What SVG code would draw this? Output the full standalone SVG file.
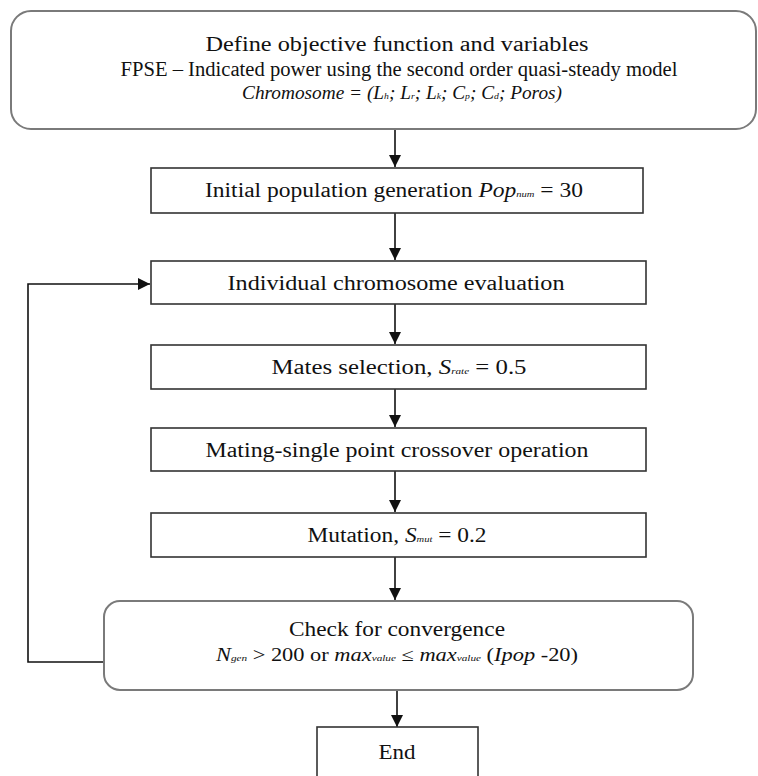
<svg xmlns="http://www.w3.org/2000/svg" width="758" height="776" viewBox="0 0 758 776">
<style>
.box{fill:#fff;stroke:#333;stroke-width:1.6}
.rbox{fill:#fff;stroke:#7a7a7a;stroke-width:2}
.t{font-family:"Liberation Serif","DejaVu Serif",serif;font-size:20px;fill:#111;text-anchor:middle}
.s{font-family:"Liberation Serif","DejaVu Serif",serif;font-size:18px;fill:#111;text-anchor:middle}
.i{font-style:italic}
.sub{font-size:9px;font-style:italic}
.c{fill:none;stroke:#111;stroke-width:1.6}
</style>
<defs>
<marker id="ah" markerUnits="userSpaceOnUse" markerWidth="12" markerHeight="14" refX="12" refY="6" orient="auto">
<path d="M0,0 L12,6 L0,12 Z" fill="#111"/>
</marker>
</defs>
<g id="connectors">
<line class="c" x1="395" y1="130" x2="395" y2="167" marker-end="url(#ah)"/>
<line class="c" x1="395" y1="213" x2="395" y2="260" marker-end="url(#ah)"/>
<line class="c" x1="395" y1="304" x2="395" y2="344" marker-end="url(#ah)"/>
<line class="c" x1="395" y1="389" x2="395" y2="427" marker-end="url(#ah)"/>
<line class="c" x1="395" y1="471" x2="395" y2="512" marker-end="url(#ah)"/>
<line class="c" x1="395" y1="557" x2="395" y2="600" marker-end="url(#ah)"/>
<line class="c" x1="397" y1="690" x2="397" y2="727" marker-end="url(#ah)"/>
<polyline class="c" points="104,662 28,662 28,284 150,284" marker-end="url(#ah)"/>
</g>
<g id="define">
<rect class="rbox" x="11" y="11" width="745" height="118" rx="20"/>
<text class="t" x="397" y="51" textLength="383" lengthAdjust="spacingAndGlyphs">Define objective function and variables</text>
<text class="t" x="399" y="76" textLength="557" lengthAdjust="spacingAndGlyphs">FPSE – Indicated power using the second order quasi-steady model</text>
<text class="s i" x="402" y="99" textLength="320" lengthAdjust="spacingAndGlyphs">Chromosome = (L<tspan class="sub">h</tspan>; L<tspan class="sub">r</tspan>; L<tspan class="sub">k</tspan>; C<tspan class="sub">p</tspan>; C<tspan class="sub">d</tspan>; Poros)</text>
</g>
<g id="init">
<rect class="box" x="151" y="168" width="492" height="45"/>
<text class="t" x="394" y="197" textLength="378" lengthAdjust="spacingAndGlyphs">Initial population generation <tspan class="i">Pop</tspan><tspan class="sub">num</tspan> = 30</text>
</g>
<g id="evaluate">
<rect class="box" x="151" y="261" width="495" height="43"/>
<text class="t" x="396" y="290" textLength="337" lengthAdjust="spacingAndGlyphs">Individual chromosome evaluation</text>
</g>
<g id="mates">
<rect class="box" x="151" y="345" width="495" height="44"/>
<text class="t" x="399" y="374" textLength="255" lengthAdjust="spacingAndGlyphs">Mates selection, <tspan class="i">S</tspan><tspan class="sub">rate</tspan> = 0.5</text>
</g>
<g id="mating">
<rect class="box" x="151" y="428" width="495" height="43"/>
<text class="t" x="397" y="457" textLength="383" lengthAdjust="spacingAndGlyphs">Mating-single point crossover operation</text>
</g>
<g id="mutation">
<rect class="box" x="151" y="513" width="495" height="44"/>
<text class="t" x="397" y="542" textLength="179" lengthAdjust="spacingAndGlyphs">Mutation, <tspan class="i">S</tspan><tspan class="sub">mut</tspan> = 0.2</text>
</g>
<g id="check">
<rect class="rbox" x="104" y="601" width="589" height="89" rx="16"/>
<text class="t" x="397" y="636" textLength="216" lengthAdjust="spacingAndGlyphs">Check for convergence</text>
<text class="s" x="397" y="661" textLength="362" lengthAdjust="spacingAndGlyphs"><tspan class="i">N</tspan><tspan class="sub">gen</tspan> &gt; 200 or <tspan class="i">max</tspan><tspan class="sub">value</tspan> ≤ <tspan class="i">max</tspan><tspan class="sub">value</tspan> (<tspan class="i">Ipop</tspan> -20)</text>
</g>
<g id="end">
<rect class="box" x="317" y="727" width="161" height="60"/>
<text class="t" x="397" y="759" textLength="37" lengthAdjust="spacingAndGlyphs">End</text>
</g>
</svg>
